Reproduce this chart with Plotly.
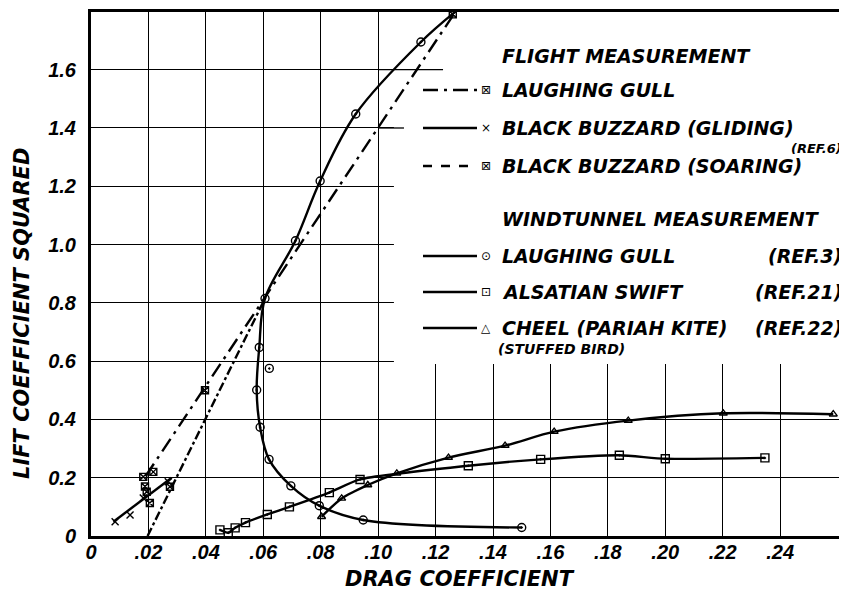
import plotly.graph_objects as go

# ---------------- data ----------------
x_tickvals = [0, 0.02, 0.04, 0.06, 0.08, 0.10, 0.12, 0.14, 0.16, 0.18, 0.20, 0.22, 0.24]
x_ticktext = ["0", ".02", ".04", ".06", ".08", ".10", ".12", ".14", ".16", ".18", ".20", ".22", ".24"]
y_tickvals = [0, 0.2, 0.4, 0.6, 0.8, 1.0, 1.2, 1.4, 1.6]
y_ticktext = ["0", "0.2", "0.4", "0.6", "0.8", "1.0", "1.2", "1.4", "1.6"]

# Flight measurement - Laughing gull (fitted line + points)
gull_flight_line_x = [0.0190, 0.1270]
gull_flight_line_y = [0.205, 1.800]
gull_flight_pts_x = [0.0182, 0.0217, 0.0397, 0.1260]
gull_flight_pts_y = [0.203, 0.220, 0.500, 1.790]

# Flight measurement - Black buzzard (gliding)
buzz_glide_line_x = [0.0078, 0.0281]
buzz_glide_line_y = [0.049, 0.200]
buzz_glide_pts_x = [0.0084, 0.0136, 0.0182, 0.0269]
buzz_glide_pts_y = [0.049, 0.072, 0.130, 0.186]

# Flight measurement - Black buzzard (soaring)
buzz_soar_line_x = [0.0197, 0.0606]
buzz_soar_line_y = [0.000, 0.815]
buzz_soar_pts_x = [0.0188, 0.0194, 0.0205, 0.0275]
buzz_soar_pts_y = [0.170, 0.152, 0.113, 0.169]

# Windtunnel - Laughing gull (Ref. 3)
gull_wt_x = [0.1270, 0.1149, 0.0922, 0.0798, 0.0712, 0.0606, 0.0586, 0.0577, 0.0589, 0.0620, 0.0696, 0.0795, 0.0948, 0.1500]
gull_wt_y = [1.800, 1.695, 1.448, 1.218, 1.013, 0.815, 0.647, 0.501, 0.373, 0.263, 0.172, 0.104, 0.055, 0.029]
gull_wt_stray_x = [0.0621]
gull_wt_stray_y = [0.575]

# Windtunnel - Alsatian swift (Ref. 21)
swift_x = [0.0449, 0.0478, 0.0502, 0.0538, 0.0614, 0.0691, 0.0830, 0.0937, 0.1314, 0.1566, 0.1840, 0.2000, 0.2347]
swift_y = [0.021, 0.011, 0.028, 0.046, 0.074, 0.100, 0.149, 0.194, 0.241, 0.263, 0.277, 0.265, 0.268]

# Windtunnel - Cheel (Pariah kite, stuffed bird) (Ref. 22)
cheel_x = [0.0803, 0.0873, 0.0964, 0.1065, 0.1245, 0.1442, 0.1613, 0.1871, 0.2202, 0.2585]
cheel_y = [0.066, 0.129, 0.175, 0.215, 0.269, 0.310, 0.358, 0.396, 0.421, 0.418]

# ---------------- figure ----------------
# the page body has an 8px margin, so the figure is shifted accordingly
OFF = 8
W, H = 847 - OFF, 596 - OFF
PL, PT, PR, PB = 91, 12, 839, 536          # plot area in page pixels
ML, MT = PL - OFF, PT - OFF
MR, MB = W - (PR - OFF), H - (PB - OFF)
PW, PH = PR - PL, PB - PT


def pxx(p):
    return (p - PL) / PW


def pxy(p):
    return (PB - p) / PH


LW = 2.4
fig = go.Figure()

# fitted flight lines
fig.add_trace(go.Scatter(x=gull_flight_line_x, y=gull_flight_line_y, mode="lines",
                         line=dict(color="black", width=LW, dash="longdashdot")))
fig.add_trace(go.Scatter(x=buzz_glide_line_x, y=buzz_glide_line_y, mode="lines",
                         line=dict(color="black", width=LW)))
fig.add_trace(go.Scatter(x=buzz_soar_line_x, y=buzz_soar_line_y, mode="lines",
                         line=dict(color="black", width=LW, dash="dashdot")))

# windtunnel curves
fig.add_trace(go.Scatter(x=gull_wt_x, y=gull_wt_y, mode="lines",
                         line=dict(color="black", width=LW, shape="spline", smoothing=1.0)))
fig.add_trace(go.Scatter(x=swift_x, y=swift_y, mode="lines",
                         line=dict(color="black", width=LW, shape="spline", smoothing=0.6)))
fig.add_trace(go.Scatter(x=cheel_x, y=cheel_y, mode="lines",
                         line=dict(color="black", width=LW, shape="spline", smoothing=0.8)))

mk_line = dict(color="black", width=1.4)
fig.add_trace(go.Scatter(x=gull_wt_x[1:], y=gull_wt_y[1:], mode="markers",
                         marker=dict(symbol="circle-open-dot", size=8, color="black", line=mk_line)))
fig.add_trace(go.Scatter(x=gull_wt_stray_x, y=gull_wt_stray_y, mode="markers",
                         marker=dict(symbol="circle-open-dot", size=8, color="black", line=mk_line)))
fig.add_trace(go.Scatter(x=swift_x, y=swift_y, mode="markers",
                         marker=dict(symbol="square-open-dot", size=8, color="black", line=mk_line)))
fig.add_trace(go.Scatter(x=cheel_x, y=cheel_y, mode="markers",
                         marker=dict(symbol="triangle-up-open", size=7, color="black", line=mk_line)))
fig.add_trace(go.Scatter(x=gull_flight_pts_x, y=gull_flight_pts_y, mode="markers",
                         marker=dict(symbol="square-x-open", size=7, color="black", line=mk_line)))
fig.add_trace(go.Scatter(x=buzz_soar_pts_x, y=buzz_soar_pts_y, mode="markers",
                         marker=dict(symbol="square-x-open", size=7, color="black", line=mk_line)))
fig.add_trace(go.Scatter(x=buzz_glide_pts_x, y=buzz_glide_pts_y, mode="markers",
                         marker=dict(symbol="x-thin-open", size=7, color="black", line=mk_line)))

# blank out gridlines behind the key area
shapes = [
    dict(type="rect", xref="x", yref="y", x0=0.1055, x1=0.30, y0=0.59, y1=2.0,
         fillcolor="white", line=dict(width=0), layer="between"),
    dict(type="line", xref="x", yref="y", x0=0.10, x1=0.109, y0=1.4, y1=1.4,
         line=dict(color="black", width=1.3), layer="between"),
    dict(type="line", xref="x", yref="y", x0=0.10, x1=0.1226, y0=1.6, y1=1.6,
         line=dict(color="black", width=1.3), layer="between"),
]

TXT = dict(family="DejaVu Sans", size=19, color="black", weight="bold", style="italic")
SMALL = dict(family="DejaVu Sans", size=13, color="black", weight="bold", style="italic")
annotations = []


def text(s, x, y, font=TXT, anchor="left"):
    annotations.append(dict(text=s, x=pxx(x), y=pxy(y), xref="paper", yref="paper",
                            xanchor=anchor, yanchor="middle", showarrow=False, font=font))


# key rows: (y pixel, label, ref, dash, glyph)
key_rows = [
    (90, "LAUGHING GULL", None, "longdashdot", "\u22a0"),
    (128, "BLACK BUZZARD (GLIDING)", None, "solid", "\u00d7"),
    (166, "BLACK BUZZARD (SOARING)", None, "dash", "\u22a0"),
    (256, "LAUGHING GULL", "(REF.3)", "solid", "\u2299"),
    (292, "ALSATIAN SWIFT", "(REF.21)", "solid", "\u22a1"),
    (328, "CHEEL (PARIAH KITE)", "(REF.22)", "solid", "\u25b3"),
]
text("FLIGHT MEASUREMENT", 500, 56)
text("WINDTUNNEL MEASUREMENT", 500, 219)
for yy, lab, ref, dash, glyph in key_rows:
    shapes.append(dict(type="line", xref="paper", yref="paper", x0=pxx(423), x1=pxx(477),
                       y0=pxy(yy), y1=pxy(yy), line=dict(color="black", width=LW, dash=dash)))
    text(glyph, 486, yy, font=dict(family="DejaVu Sans", size=12, color="black"), anchor="center")
    text(lab, 500, yy)
    if ref:
        text(ref, 844, yy, anchor="right")
text("(REF.6)", 816, 148, font=SMALL, anchor="center")
text("(STUFFED BIRD)", 496, 349, font=dict(family="DejaVu Sans", size=14, color="black",
                                          weight="bold", style="italic"))

# axis titles
text("DRAG COEFFICIENT", 460, 579, font=dict(family="DejaVu Sans", size=21, color="black",
                                              weight="bold", style="italic"), anchor="center")
annotations.append(dict(text="LIFT COEFFICIENT SQUARED", x=pxx(22), y=pxy(314),
                        xref="paper", yref="paper", textangle=-90, showarrow=False,
                        xanchor="center", yanchor="middle",
                        font=dict(family="DejaVu Sans", size=21, color="black",
                                  weight="bold", style="italic")))

TICKF = dict(family="Liberation Sans", size=20, color="black", weight="bold", style="italic")
fig.update_layout(
    width=W, height=H,
    margin=dict(l=ML, r=MR, t=MT, b=MB, autoexpand=False),
    paper_bgcolor="white", plot_bgcolor="white",
    showlegend=False,
    shapes=shapes, annotations=annotations,
    xaxis=dict(range=[0, 0.2605], tickvals=x_tickvals, ticktext=x_ticktext,
               showgrid=True, gridcolor="black", gridwidth=1.3, zeroline=False,
               showline=True, linecolor="black", linewidth=3, mirror=True, automargin=False,
               ticks="", ticklabelstandoff=-4, tickfont=TICKF),
    yaxis=dict(range=[0, 1.798], tickvals=y_tickvals, ticktext=y_ticktext,
               showgrid=True, gridcolor="black", gridwidth=1.3, zeroline=False,
               showline=True, linecolor="black", linewidth=3, mirror=True, automargin=False,
               ticks="", ticklabelstandoff=8, tickfont=TICKF),
)

fig.write_html("out.html")
